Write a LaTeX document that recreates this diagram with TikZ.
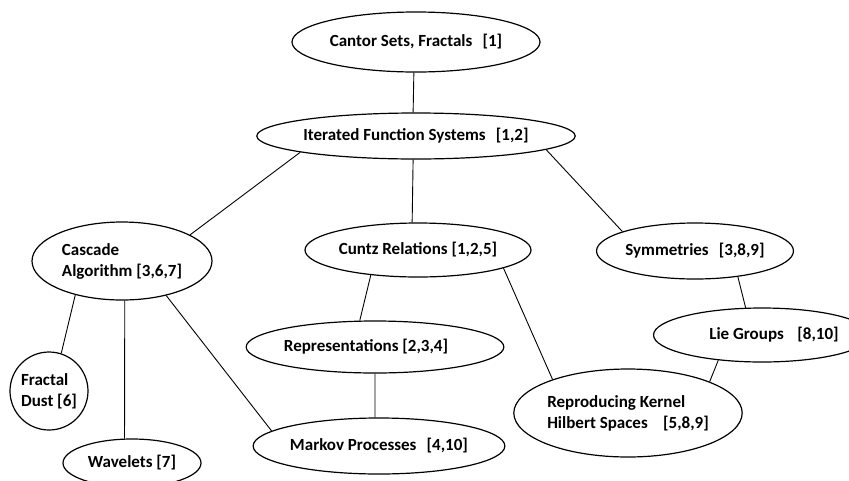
\documentclass[tikz,border=0pt]{standalone}
\usepackage{fontspec}
\setmainfont{Carlito}
\usetikzlibrary{shapes.geometric}
\tikzset{
  topic/.style={draw, ellipse, line width=1.2pt, inner sep=0pt, font=\bfseries\fontsize{17}{21}\selectfont, align=left},
  link/.style={line width=0.9pt},
}
\begin{document}
\begin{tikzpicture}[x=1pt,y=-1pt]
\useasboundingbox (0,0) rectangle (849,480);
\node[topic, minimum width=248, minimum height=60] (cantor) at (416,42) {Cantor Sets, Fractals\hspace{0.6em}[1]};
\node[topic, minimum width=312, minimum height=46] (ifs) at (416,136) {Iterated Function Systems\hspace{0.6em}[1,2]};
\node[topic, minimum width=180, minimum height=78] (casc) at (122,261) {Cascade\\Algorithm [3,6,7]};
\node[topic, minimum width=226, minimum height=54] (cuntz) at (418,250) {Cuntz Relations [1,2,5]};
\node[topic, minimum width=194, minimum height=56] (sym) at (695,251) {Symmetries\hspace{0.6em}[3,8,9]};
\node[topic, minimum width=230, minimum height=52] (rep) at (375,347) {Representations [2,3,4]\hspace{18pt}};
\node[topic, minimum width=170, minimum height=54] (lie) at (762,335) {\hspace*{24pt}Lie Groups\hspace{0.8em}[8,10]};
\node[topic, circle, minimum size=78] (dust) at (49,391) {Fractal\\Dust [6]};
\node[topic, minimum width=138, minimum height=48] (wav) at (132,463) {Wavelets [7]};
\node[topic, minimum width=228, minimum height=56] (markov) at (379,446) {Markov Processes\hspace{0.6em}[4,10]};
\node[topic, minimum width=196, minimum height=88] (rkhs) at (628,413) {Reproducing Kernel\\Hilbert Spaces\hspace{0.9em}[5,8,9]};
\draw[link] (cantor.266) -- (ifs.97);
\draw[link] (ifs.188) -- (casc.21);
\draw[link] (ifs.263) -- (cuntz.102);
\draw[link] (ifs.354) -- (sym.165);
\draw[link] (cuntz.208) -- (rep.120);
\draw[link] (cuntz.348) -- (rkhs.156);
\draw[link] (sym.329) -- (lie.121);
\draw[link] (lie.210) -- (rkhs.21);
\draw[link] (casc.216) -- (dust.72);
\draw[link] (casc.274) -- (wav.107);
\draw[link] (casc.322) -- (markov.172);
\draw[link] (rep.270) -- (markov.98);
\end{tikzpicture}
\end{document}
